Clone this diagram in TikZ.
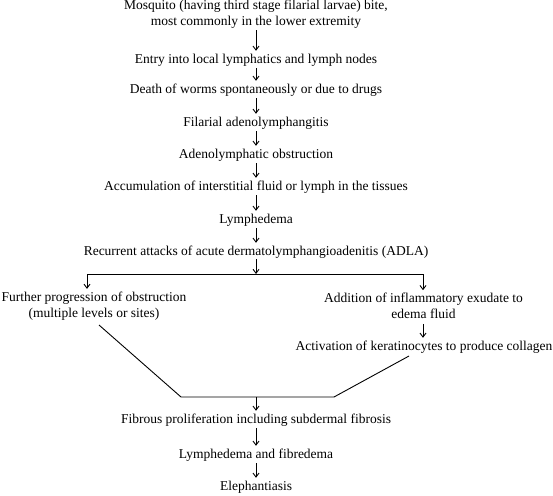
\documentclass[tikz,border=0pt]{standalone}
\usepackage{fontspec}
\setmainfont{Liberation Serif}
\usetikzlibrary{arrows.meta}
\begin{document}
\begin{tikzpicture}[x=1pt,y=-1pt,
  lbl/.style={inner sep=0pt,align=center,font=\fontsize{13.5}{15.5}\selectfont},
  one/.style={lbl,text height=9.5pt,text depth=2.5pt},
  arr/.style={-{Straight Barb[length=4pt,width=6pt]},line width=0.9pt},
  ln/.style={line width=0.9pt},
  flow/.style={arr,shorten <=2pt,shorten >=3pt}]
\useasboundingbox (0,0) rectangle (553,495);
\node[lbl] (n1) at (256,14) {Mosquito (having third stage filarial larvae) bite,\\most commonly in the lower extremity};
\node[one] (n2) at (256,60) {Entry into local lymphatics and lymph nodes};
\node[one] (n3) at (256,90) {Death of worms spontaneously or due to drugs};
\node[one] (n4) at (256,123) {Filarial adenolymphangitis};
\node[one] (n5) at (256,155) {Adenolymphatic obstruction};
\node[one] (n6) at (256,187) {Accumulation of interstitial fluid or lymph in the tissues};
\node[one] (n7) at (256,220) {Lymphedema};
\node[one] (n8) at (256,252) {Recurrent attacks of acute dermatolymphangioadenitis (ADLA)};
\node[lbl] (l1) at (94,306) {Further progression of obstruction\\(multiple levels or sites)};
\node[lbl] (r1) at (423.5,306) {Addition of inflammatory exudate to\\edema fluid};
\node[one] (r2) at (424,347) {Activation of keratinocytes to produce collagen};
\node[one] (f1) at (256,420) {Fibrous proliferation including subdermal fibrosis};
\node[one] (f2) at (256,455) {Lymphedema and fibredema};
\node[one] (f3) at (256,487) {Elephantiasis};
\coordinate (s) at (256,274);
\coordinate (sl) at (87,274);
\coordinate (sr) at (423,274);
\coordinate (a) at (99,325);
\coordinate (b) at (181,397);
\coordinate (m) at (256,397);
\coordinate (c) at (334,397);
\coordinate (d) at (409,356);
\foreach \u/\v in {n1/n2,n2/n3,n3/n4,n4/n5,n5/n6,n6/n7,n7/n8,f1/f2,f2/f3}
  \draw[flow] (\u) -- (\v);
\draw[arr,shorten <=5pt,shorten >=3pt] (r1.south -| sr) -- (r2.north -| sr);
\draw[arr,shorten <=1pt] (n8) -- (s);
\draw[ln] (sl) -- (sr);
\draw[arr,shorten >=3pt] (sl) -- (sl |- l1.north);
\draw[arr,shorten >=3pt] (sr) -- (sr |- r1.north);
\draw[ln] (a) -- (b) -- (c) -- (d);
\draw[arr,shorten >=3pt] (m) -- (f1);
\end{tikzpicture}
\end{document}
